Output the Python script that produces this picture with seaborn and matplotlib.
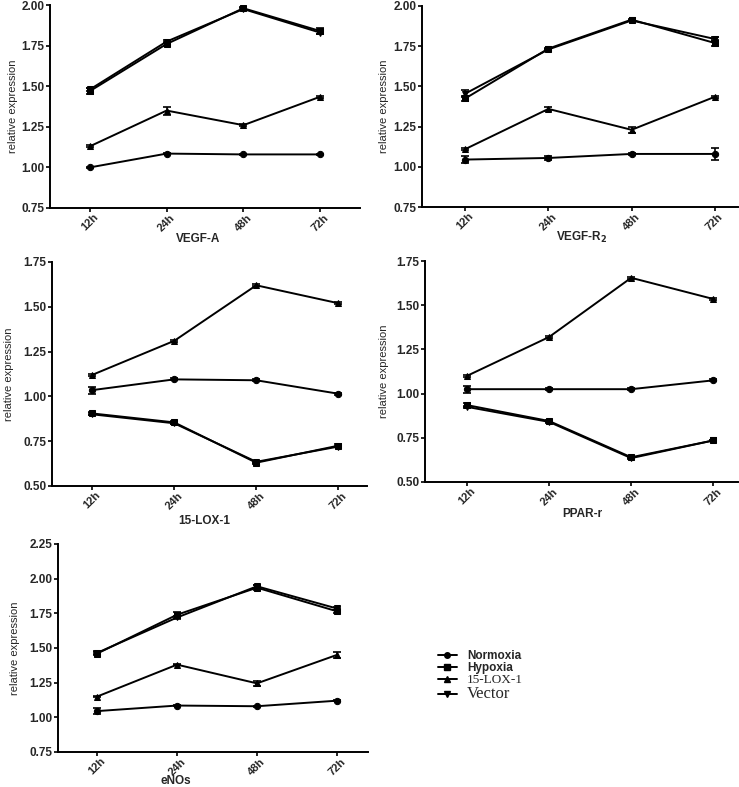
import numpy as np
import pandas as pd
import matplotlib
matplotlib.use("Agg")
import matplotlib.pyplot as plt
import seaborn as sns
from matplotlib.lines import Line2D

sns.set_theme(style="ticks")
plt.rcParams['font.family'] = ['Liberation Sans', 'DejaVu Sans']

times = ["12h", "24h", "48h", "72h"]
groups = ["Normoxia", "Hypoxia", "15-LOX-1", "Vector"]

vegfa_normoxia = [1.00, 1.085, 1.08, 1.08]
vegfa_hypoxia = [1.47, 1.76, 1.98, 1.84]
vegfa_lox = [1.13, 1.35, 1.26, 1.435]
vegfa_vector = [1.48, 1.775, 1.975, 1.83]
vegfa_err = [[0.005, 0.005, 0.005, 0.005], [0.02, 0.01, 0.01, 0.02],
             [0.005, 0.025, 0.005, 0.005], [0.01, 0.01, 0.005, 0.01]]

vegfr2_normoxia = [1.045, 1.055, 1.08, 1.08]
vegfr2_hypoxia = [1.425, 1.735, 1.915, 1.77]
vegfr2_lox = [1.11, 1.36, 1.23, 1.435]
vegfr2_vector = [1.455, 1.73, 1.91, 1.795]
vegfr2_err = [[0.02, 0.012, 0.005, 0.04], [0.015, 0.005, 0.005, 0.02],
              [0.005, 0.015, 0.02, 0.005], [0.02, 0.005, 0.005, 0.01]]

lox1_normoxia = [1.035, 1.095, 1.09, 1.015]
lox1_hypoxia = [0.905, 0.855, 0.63, 0.725]
lox1_lox = [1.12, 1.31, 1.62, 1.52]
lox1_vector = [0.90, 0.85, 0.635, 0.72]
lox1_err = [[0.02, 0.005, 0.005, 0.005], [0.01, 0.01, 0.005, 0.01],
            [0.005, 0.005, 0.005, 0.005], [0.005, 0.005, 0.005, 0.005]]

ppar_normoxia = [1.025, 1.025, 1.025, 1.075]
ppar_hypoxia = [0.935, 0.845, 0.64, 0.735]
ppar_lox = [1.10, 1.32, 1.655, 1.535]
ppar_vector = [0.925, 0.84, 0.635, 0.735]
ppar_err = [[0.02, 0.005, 0.005, 0.005], [0.01, 0.005, 0.005, 0.005],
            [0.005, 0.005, 0.005, 0.005], [0.005, 0.005, 0.005, 0.005]]

enos_normoxia = [1.045, 1.085, 1.08, 1.12]
enos_hypoxia = [1.46, 1.74, 1.935, 1.765]
enos_lox = [1.15, 1.38, 1.245, 1.45]
enos_vector = [1.465, 1.72, 1.945, 1.785]
enos_err = [[0.02, 0.005, 0.005, 0.005], [0.01, 0.02, 0.02, 0.01],
            [0.005, 0.005, 0.02, 0.02], [0.01, 0.01, 0.01, 0.01]]

panels = [
    dict(title="VEGF-A", vals=[vegfa_normoxia, vegfa_hypoxia, vegfa_lox, vegfa_vector], err=vegfa_err,
         ylim=(0.75, 2.00), yticks=[0.75, 1.00, 1.25, 1.50, 1.75, 2.00],
         px=(50, 360, 5, 208), xlim=(-0.52, 3.52), tpos=(198, 239), ylx=13),
    dict(title=r"VEGF-R$_\mathbf{2}$", vals=[vegfr2_normoxia, vegfr2_hypoxia, vegfr2_lox, vegfr2_vector], err=vegfr2_err,
         ylim=(0.75, 2.00), yticks=[0.75, 1.00, 1.25, 1.50, 1.75, 2.00],
         px=(422, 738, 6, 207), xlim=(-0.52, 3.28), tpos=(582, 237), ylx=384),
    dict(title="15-LOX-1", vals=[lox1_normoxia, lox1_hypoxia, lox1_lox, lox1_vector], err=lox1_err,
         ylim=(0.50, 1.75), yticks=[0.50, 0.75, 1.00, 1.25, 1.50, 1.75],
         px=(52, 367, 262, 486), xlim=(-0.49, 3.35), tpos=(204, 521), ylx=9),
    dict(title="PPAR-r", vals=[ppar_normoxia, ppar_hypoxia, ppar_lox, ppar_vector], err=ppar_err,
         ylim=(0.50, 1.75), yticks=[0.50, 0.75, 1.00, 1.25, 1.50, 1.75],
         px=(425, 738, 261, 482), xlim=(-0.51, 3.30), tpos=(582, 514), ylx=384),
    dict(title="eNOs", vals=[enos_normoxia, enos_hypoxia, enos_lox, enos_vector], err=enos_err,
         ylim=(0.75, 2.25), yticks=[0.75, 1.00, 1.25, 1.50, 1.75, 2.00, 2.25],
         px=(58, 368, 544, 752), xlim=(-0.49, 3.39), tpos=(176, 781), ylx=15),
]

markers = {"Normoxia": "o", "Hypoxia": "s", "15-LOX-1": "^", "Vector": "v"}
W, H = 739, 787
fig = plt.figure(figsize=(W / 100, H / 100), dpi=100)

for p in panels:
    l, r, t, b = p["px"]
    ax = fig.add_axes([l / W, 1 - b / H, (r - l) / W, (b - t) / H])
    rows = []
    for g, v in zip(groups, p["vals"]):
        for i, val in enumerate(v):
            rows.append(dict(pos=i, value=val, group=g))
    df = pd.DataFrame(rows)
    sns.lineplot(data=df, x="pos", y="value", style="group", markers=markers, dashes=False,
                 color="black", linewidth=1.4, markersize=4.5, markeredgecolor="black",
                 legend=False, ax=ax)
    for g, v, e in zip(groups, p["vals"], p["err"]):
        ax.errorbar(range(4), v, yerr=e, fmt="none", ecolor="black", elinewidth=1.2, capsize=3, capthick=1.2)
    ax.set_xlim(*p["xlim"])
    ax.set_ylim(*p["ylim"])
    ax.set_yticks(p["yticks"])
    ax.set_yticklabels([f"{y:.2f}" for y in p["yticks"]], fontsize=8.5, fontweight="bold")
    ax.set_xticks(range(4))
    ax.set_xticklabels(times, rotation=45, fontsize=8, fontweight="bold", ha="center")
    ax.set_xlabel("")
    ax.set_ylabel("")
    fig.text(p["tpos"][0] / W, 1 - p["tpos"][1] / H, p["title"], fontsize=8.5, fontweight="bold",
             ha="center", va="center")
    fig.text(p["ylx"] / W, 1 - (t + b) / 2 / H, "relative expression", fontsize=8,
             rotation=90, ha="center", va="center")
    for s in ["top", "right"]:
        ax.spines[s].set_visible(False)
    for s in ["left", "bottom"]:
        ax.spines[s].set_linewidth(1.4)
        ax.spines[s].set_color("black")
    ax.tick_params(axis="both", direction="out", length=3, width=1.2, color="black", pad=1)
    ax.tick_params(axis="x", pad=0)

# legend
handles = [Line2D([0], [0], color="black", marker=markers[g], markersize=4, linewidth=1.4) for g in groups]
leg = fig.legend(handles, groups, loc="upper left", bbox_to_anchor=(433 / W, 1 - 645 / H),
                 frameon=False, handlelength=1.6, handletextpad=0.9, labelspacing=0.0, fontsize=8.5,
                 borderaxespad=0)
texts = leg.get_texts()
texts[0].set_fontweight("bold")
texts[1].set_fontweight("bold")
texts[2].set_fontfamily("Liberation Serif")
texts[2].set_fontsize(9.5)
texts[3].set_fontfamily("Liberation Serif")
texts[3].set_fontsize(12)

fig.savefig("out.png", dpi=100)
